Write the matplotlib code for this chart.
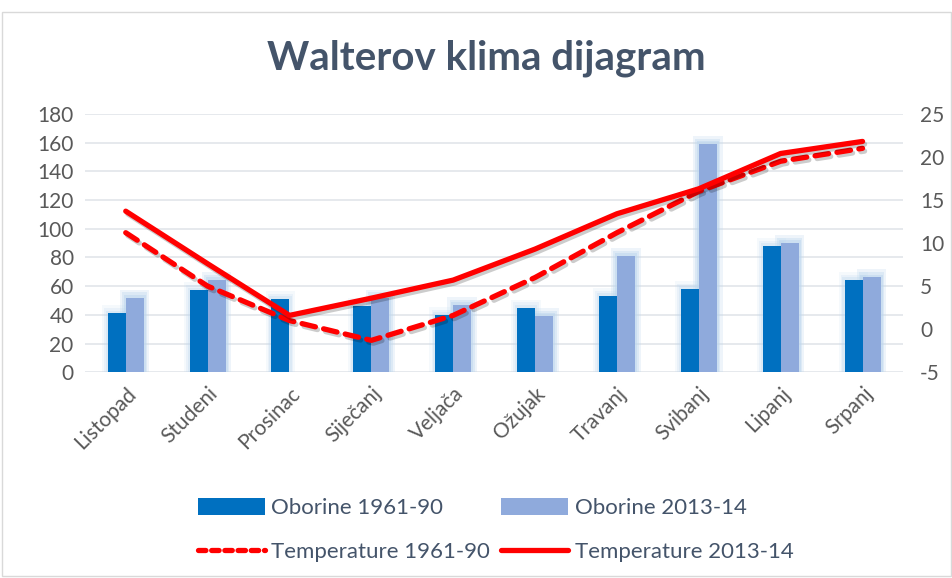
import matplotlib

matplotlib.use("Agg")

import matplotlib.pyplot as plt
import matplotlib.patheffects as pe
from matplotlib.patches import Patch, Rectangle
from matplotlib.lines import Line2D
import numpy as np

plt.rcParams["font.family"] = ["Lato", "DejaVu Sans"]
plt.rcParams["axes.unicode_minus"] = False

months = ["Listopad", "Studeni", "Prosinac", "Siječanj", "Veljača",
          "Ožujak", "Travanj", "Svibanj", "Lipanj", "Srpanj"]
rain_old = [41, 57, 51, 46, 40, 45, 53, 58, 88, 64]
rain_new = [52, 64, 0, 52, 47, 39, 81, 159, 90, 66]
temp_old = [11.2, 5.0, 1.0, -1.3, 1.6, 6.0, 11.2, 16.0, 19.5, 21.0]
temp_new = [13.7, 7.6, 1.6, 3.6, 5.7, 9.3, 13.4, 16.3, 20.4, 21.8]

DARK_BLUE = "#0070C0"
LIGHT_BLUE = "#8FAADC"
GLOW = "#BDD7EE"
RED = "#FF0000"
TEXT = "#595959"
TITLE = "#44546A"
GRID = "#E1E5EA"

fig = plt.figure(figsize=(9.53, 5.78), dpi=100)
ax = fig.add_axes([0.089, 0.356, 0.859, 0.447])
x = np.arange(len(months))
w = 0.22
old = np.array(rain_old, dtype=float)
new = np.array(rain_new, dtype=float)

# soft glow behind the bars (a few widening layers), none for empty bars
for grow, a in [(0.14, 0.25), (0.09, 0.35), (0.05, 0.5)]:
    ax.bar(x - w / 2, np.where(old > 0, old + grow * 40, 0), width=w + grow,
           color=GLOW, alpha=a * 0.6, zorder=1, linewidth=0)
    ax.bar(x + w / 2, np.where(new > 0, new + grow * 40, 0), width=w + grow,
           color=GLOW, alpha=a, zorder=1, linewidth=0)
ax.bar(x - w / 2, old, width=w, color=DARK_BLUE, zorder=2)
ax.bar(x + w / 2, new, width=w, color=LIGHT_BLUE, zorder=2)

ax.set_xlim(-0.5, len(months) - 0.5)
ax.set_ylim(0, 180)
ax.set_yticks(range(0, 181, 20))
ax.set_xticks(x)
ax.set_xticklabels(months, rotation=45, ha="right", rotation_mode="anchor")
ax.grid(axis="y", color=GRID, linewidth=1.2, zorder=0)
ax.set_axisbelow(True)
for s in ax.spines.values():
    s.set_visible(False)
ax.tick_params(length=0, labelsize=15, colors=TEXT, pad=8)

ax2 = ax.twinx()
ax2.set_ylim(-5, 25)
ax2.set_yticks(range(-5, 26, 5))
for s in ax2.spines.values():
    s.set_visible(False)
ax2.tick_params(length=0, labelsize=15, colors=TEXT, pad=12)

shadow = [pe.SimpleLineShadow(offset=(1.5, -2), alpha=0.2), pe.Normal()]
ax2.plot(x, temp_old, color=RED, linewidth=3.8, linestyle=(0, (2.6, 1.6)),
         dash_capstyle="round", solid_capstyle="round", path_effects=shadow, zorder=3)
ax2.plot(x, temp_new, color=RED, linewidth=3.8, solid_capstyle="round",
         path_effects=shadow, zorder=4)

fig.text(0.51, 0.9, "Walterov klima dijagram", ha="center", va="center",
         fontsize=29, fontweight="bold", color=TITLE)

handles = [
    Patch(facecolor=DARK_BLUE, label="Oborine 1961-90"),
    Line2D([], [], color=RED, linewidth=3.8, linestyle=(0, (1.4, 1.1)),
           dash_capstyle="round", label="Temperature 1961-90"),
    Patch(facecolor=LIGHT_BLUE, label="Oborine 2013-14"),
    Line2D([], [], color=RED, linewidth=3.8, solid_capstyle="round",
           label="Temperature 2013-14"),
]
leg = fig.legend(handles=handles, loc="center", bbox_to_anchor=(0.52, 0.083), ncol=2,
                 frameon=False, fontsize=16, handlelength=3.0, handleheight=0.8,
                 columnspacing=0.5, handletextpad=0.3, labelspacing=1.05)
for t in leg.get_texts():
    t.set_color(TITLE)

fig.patches.append(Rectangle((0.002, 0.003), 0.996, 0.977, transform=fig.transFigure,
                             fill=False, edgecolor="#D9D9D9", linewidth=1))

fig.savefig("out.png", dpi=100, facecolor="white")
